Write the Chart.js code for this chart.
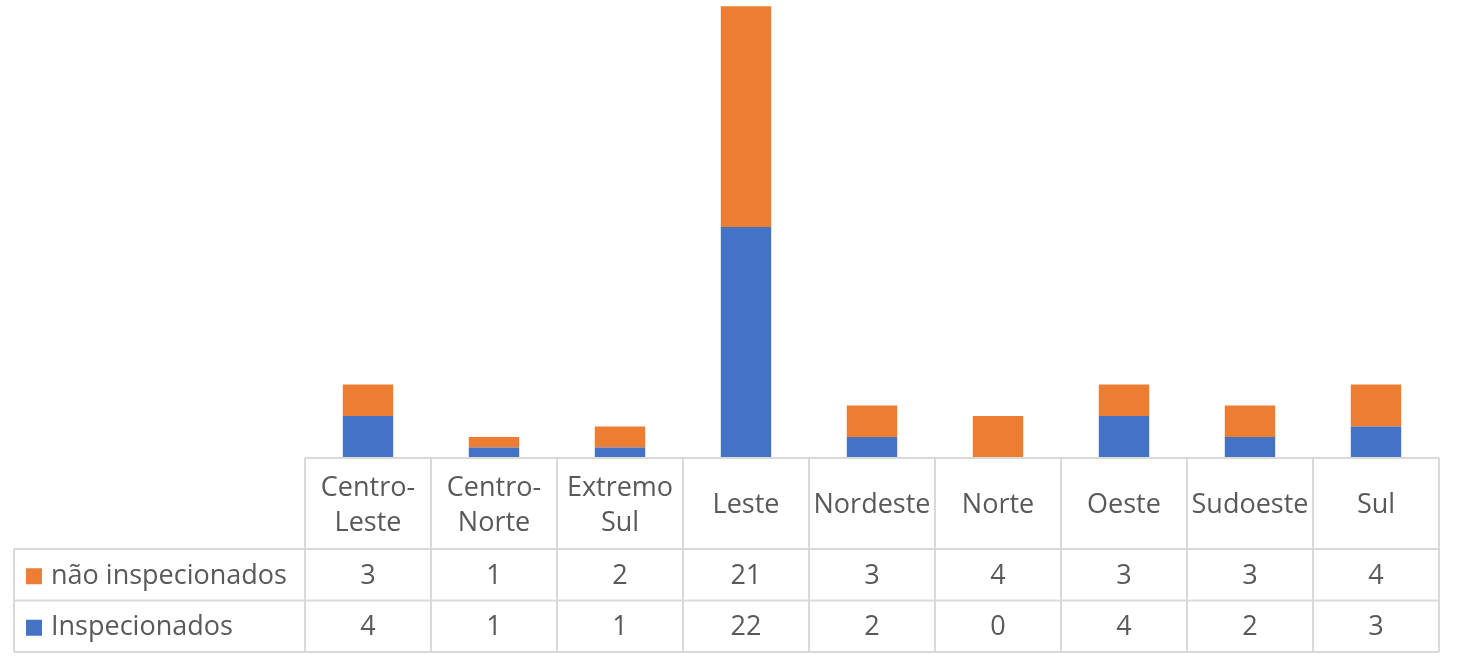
<!DOCTYPE html>
<html>
<head>
<meta charset="utf-8">
<script src="https://cdn.jsdelivr.net/npm/chart.js@4"></script>
<style>
  html, body { margin: 0; padding: 0; background: #fff; }
  #wrap { width: 1459px; height: 662px; }
</style>
</head>
<body>
<div id="wrap"><canvas id="chart1"></canvas></div>
<script>
// dados
const regioes = [['Centro-', 'Leste'], ['Centro-', 'Norte'], ['Extremo', 'Sul'], ['Leste'], ['Nordeste'], ['Norte'], ['Oeste'], ['Sudoeste'], ['Sul']];
const inspecionados = [4, 1, 1, 22, 2, 0, 4, 2, 3];
const naoInspecionados = [3, 1, 2, 21, 3, 4, 3, 3, 4];

const azul = '#4472C4';
const laranja = '#ED7D31';
const corTexto = '#595959';
const corGrade = '#d9d9d9';
const fonte = '27px "Open Sans", sans-serif';

// linhas da tabela de dados (de cima pra baixo, como no Excel)
const linhasTabela = [
  { label: 'não inspecionados', color: laranja, values: naoInspecionados },
  { label: 'Inspecionados', color: azul, values: inspecionados }
];

const tabelaPlugin = {
  id: 'tabelaDados',
  afterDraw(chart) {
    const ctx = chart.ctx;
    const area = chart.chartArea;
    const x = chart.scales.x;
    const n = regioes.length;
    const step = (area.right - area.left) / n;
    const top = area.bottom;
    const catH = 91;
    const rowH = 51.5;
    const leftEdge = 14;

    ctx.save();
    ctx.strokeStyle = corGrade;
    ctx.lineWidth = 2;

    const hline = (x0, x1, y) => { ctx.beginPath(); ctx.moveTo(x0, y); ctx.lineTo(x1, y); ctx.stroke(); };
    const vline = (xx, y0, y1) => { ctx.beginPath(); ctx.moveTo(xx, y0); ctx.lineTo(xx, y1); ctx.stroke(); };
    // linhas horizontais
    hline(area.left, area.right, top);
    hline(leftEdge, area.right, top + catH);
    hline(leftEdge, area.right, top + catH + rowH);
    hline(leftEdge, area.right, top + catH + rowH * 2);
    // linhas verticais
    vline(leftEdge, top + catH, top + catH + rowH * 2);
    for (let i = 0; i <= n; i++) {
      vline(area.left + step * i, top, top + catH + rowH * 2);
    }

    ctx.fillStyle = corTexto;
    ctx.font = fonte;
    ctx.textAlign = 'center';
    ctx.textBaseline = 'middle';
    regioes.forEach((lab, i) => {
      const cx = x.getPixelForValue(i);
      const cy = top + catH / 2 + 2;
      if (lab.length === 2) {
        ctx.fillText(lab[0], cx, cy - 17.5);
        ctx.fillText(lab[1], cx, cy + 17.5);
      } else {
        ctx.fillText(lab[0], cx, cy);
      }
    });

    linhasTabela.forEach((row, r) => {
      const cy = top + catH + rowH * r + rowH / 2 + 1.5;
      ctx.fillStyle = row.color;
      ctx.fillRect(26, cy - 8, 16, 16);
      ctx.fillStyle = corTexto;
      ctx.textAlign = 'left';
      ctx.fillText(row.label, 51, cy);
      ctx.textAlign = 'center';
      row.values.forEach((v, i) => {
        ctx.fillText(String(v), x.getPixelForValue(i), cy);
      });
    });
    ctx.restore();
  }
};

const ctx = document.getElementById('chart1').getContext('2d');
new Chart(ctx, {
  type: 'bar',
  data: {
    labels: regioes.map(l => l.join(' ')),
    datasets: [
      { label: 'Inspecionados', data: inspecionados, backgroundColor: azul, barPercentage: 0.4, categoryPercentage: 1 },
      { label: 'não inspecionados', data: naoInspecionados, backgroundColor: laranja, barPercentage: 0.4, categoryPercentage: 1 }
    ]
  },
  options: {
    responsive: true,
    maintainAspectRatio: false,
    animation: false,
    layout: { padding: { left: 305, right: 20, top: 0, bottom: 204 } },
    scales: {
      x: { stacked: true, display: false },
      y: { stacked: true, display: false, min: 0, max: 43.6 }
    },
    plugins: { legend: { display: false }, tooltip: { enabled: false } }
  },
  plugins: [tabelaPlugin]
});
</script>
</body>
</html>
